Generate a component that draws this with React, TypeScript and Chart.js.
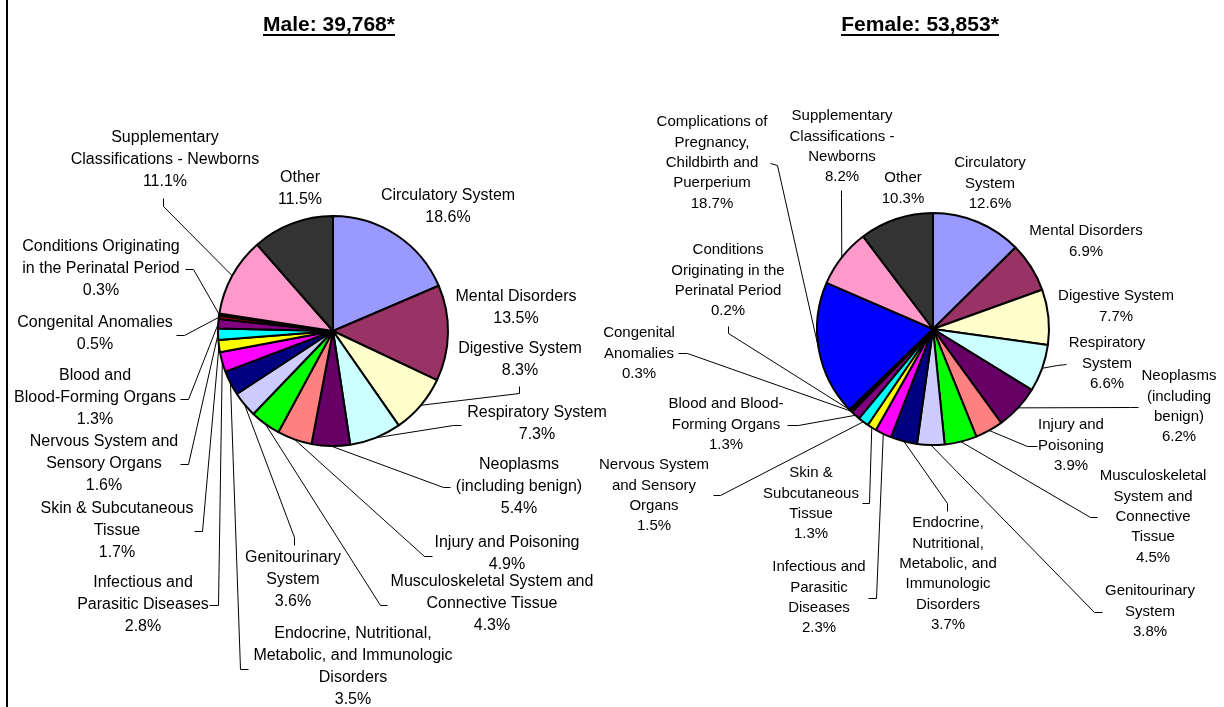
import React, { useEffect, useRef } from 'react';
import { Chart, registerables } from 'chart.js';

Chart.register(...registerables);

// ---------- data ----------
const categories = [
  'Circulatory System',
  'Mental Disorders',
  'Digestive System',
  'Respiratory System',
  'Neoplasms (including benign)',
  'Injury and Poisoning',
  'Musculoskeletal System and Connective Tissue',
  'Genitourinary System',
  'Endocrine, Nutritional, Metabolic, and Immunologic Disorders',
  'Infectious and Parasitic Diseases',
  'Skin & Subcutaneous Tissue',
  'Nervous System and Sensory Organs',
  'Blood and Blood-Forming Organs',
  'Congenital Anomalies',
  'Conditions Originating in the Perinatal Period',
  'Complications of Pregnancy, Childbirth and Puerperium',
  'Supplementary Classifications - Newborns',
  'Other',
];
const maleValues = [18.6, 13.5, 8.3, 7.3, 5.4, 4.9, 4.3, 3.6, 3.5, 2.8, 1.7, 1.6, 1.3, 0.5, 0.3, 0, 11.1, 11.5];
const femaleValues = [12.6, 6.9, 7.7, 6.6, 6.2, 3.9, 4.5, 3.8, 3.7, 2.3, 1.3, 1.5, 1.3, 0.3, 0.2, 18.7, 8.2, 10.3];
const maleTotal = 39768;
const femaleTotal = 53853;
const maleTitle = 'Male: ' + maleTotal.toLocaleString('en-US') + '*';
const femaleTitle = 'Female: ' + femaleTotal.toLocaleString('en-US') + '*';

// ---------- styles ----------
const sliceColors = [
  '#9999FF', '#993366', '#FFFFCC', '#CCFFFF', '#660066', '#FF8080', '#00FF00', '#CCCCFF', '#000080',
  '#FF00FF', '#FFFF00', '#00FFFF', '#800080', '#800000', '#FF0000', '#0000FF', '#FF99CC', '#333333',
];
const FONT = '"Liberation Sans", Arial, sans-serif';

type Lab = { lines: string[]; x: number; y: number; lead?: number[] } | null;

// ---------- label layout (positions of the text blocks and leader elbows) ----------
const maleLabels: Lab[] = [
  { lines: ['Circulatory System'], x: 448, y: 196 },
  { lines: ['Mental Disorders'], x: 516, y: 297 },
  { lines: ['Digestive System'], x: 520, y: 349, lead: [519, 386, 519, 393] },
  { lines: ['Respiratory System'], x: 537, y: 413, lead: [461, 425, 453, 425] },
  { lines: ['Neoplasms', '(including benign)'], x: 519, y: 465, lead: [450, 487, 443, 487] },
  { lines: ['Injury and Poisoning'], x: 507, y: 543, lead: [432, 556, 424, 556] },
  { lines: ['Musculoskeletal System and', 'Connective Tissue'], x: 492, y: 582, lead: [387, 605, 380, 605] },
  { lines: ['Genitourinary', 'System'], x: 293, y: 558, lead: [294, 545, 294, 537] },
  { lines: ['Endocrine, Nutritional,', 'Metabolic, and Immunologic', 'Disorders'], x: 353, y: 634, lead: [248, 669, 240, 669] },
  { lines: ['Infectious and', 'Parasitic Diseases'], x: 143, y: 583, lead: [209, 605, 218, 605] },
  { lines: ['Skin & Subcutaneous', 'Tissue'], x: 117, y: 509, lead: [194, 531, 202, 531] },
  { lines: ['Nervous System and', 'Sensory Organs'], x: 104, y: 442, lead: [180, 464, 188, 464] },
  { lines: ['Blood and', 'Blood-Forming Organs'], x: 95, y: 376, lead: [180, 399, 188, 399] },
  { lines: ['Congenital Anomalies'], x: 95, y: 323, lead: [176, 335, 184, 335] },
  { lines: ['Conditions Originating', 'in the Perinatal Period'], x: 101, y: 247, lead: [185, 269, 193, 269] },
  null,
  { lines: ['Supplementary', 'Classifications - Newborns'], x: 165, y: 138, lead: [163, 198, 163, 206] },
  { lines: ['Other'], x: 300, y: 178 },
];

const femaleLabels: Lab[] = [
  { lines: ['Circulatory', 'System'], x: 990, y: 163 },
  { lines: ['Mental Disorders'], x: 1086, y: 231 },
  { lines: ['Digestive System'], x: 1116, y: 296 },
  { lines: ['Respiratory', 'System'], x: 1107, y: 343, lead: [1066, 364, 1057, 365] },
  { lines: ['Neoplasms', '(including', 'benign)'], x: 1179, y: 376, lead: [1138, 407, 1130, 407] },
  { lines: ['Injury and', 'Poisoning'], x: 1071, y: 425, lead: [1037, 446, 1027, 446] },
  { lines: ['Musculoskeletal', 'System and', 'Connective', 'Tissue'], x: 1153, y: 476, lead: [1097, 517, 1090, 517] },
  { lines: ['Genitourinary', 'System'], x: 1150, y: 591, lead: [1102, 612, 1094, 612] },
  { lines: ['Endocrine,', 'Nutritional,', 'Metabolic, and', 'Immunologic', 'Disorders'], x: 948, y: 523, lead: [947, 511, 947, 503] },
  { lines: ['Infectious and', 'Parasitic', 'Diseases'], x: 819, y: 567, lead: [868, 598, 876, 598] },
  { lines: ['Skin &', 'Subcutaneous', 'Tissue'], x: 811, y: 473, lead: [862, 503, 869, 503] },
  { lines: ['Nervous System', 'and Sensory', 'Organs'], x: 654, y: 465, lead: [713, 495, 720, 495] },
  { lines: ['Blood and Blood-', 'Forming Organs'], x: 726, y: 404, lead: [787, 425, 798, 425] },
  { lines: ['Congenital', 'Anomalies'], x: 639, y: 333, lead: [678, 353, 687, 353] },
  { lines: ['Conditions', 'Originating in the', 'Perinatal Period'], x: 728, y: 250, lead: [728, 326, 728, 333] },
  { lines: ['Complications of', 'Pregnancy,', 'Childbirth and', 'Puerperium'], x: 712, y: 122, lead: [770, 163, 777, 165] },
  { lines: ['Supplementary', 'Classifications -', 'Newborns'], x: 842, y: 116, lead: [841, 190, 841, 197] },
  { lines: ['Other'], x: 903, y: 178 },
];

type PieCfg = {
  values: number[];
  labels: Lab[];
  title: string;
  titleX: number;
  titleY: number;
  fontSize: number;
  lineHeight: number;
  radius: number;
  padding: { left: number; right: number; top: number; bottom: number };
  border: boolean;
};

const W = 1224;
const H = 707;

function makePlugin(cfg: PieCfg) {
  return {
    id: 'pieLabels',
    afterDatasetsDraw(chart: any) {
      const ctx: CanvasRenderingContext2D = chart.ctx;
      const meta = chart.getDatasetMeta(0);
      ctx.save();
      ctx.fillStyle = '#000';
      // title
      ctx.font = `bold 21px ${FONT}`;
      ctx.textAlign = 'center';
      ctx.textBaseline = 'alphabetic';
      ctx.fillText(cfg.title, cfg.titleX, cfg.titleY);
      const tw = ctx.measureText(cfg.title).width;
      ctx.fillRect(Math.round(cfg.titleX - tw / 2), cfg.titleY + 3, Math.round(tw), 2);
      if (cfg.border) ctx.fillRect(6, 0, 2, H);
      // labels
      ctx.font = `${cfg.fontSize}px ${FONT}`;
      ctx.textBaseline = 'middle';
      ctx.strokeStyle = '#000';
      ctx.lineWidth = 1;
      cfg.labels.forEach((lab, i) => {
        const v = cfg.values[i];
        if (!lab || !v) return;
        const lines = [...lab.lines, v.toFixed(1) + '%'];
        lines.forEach((t, k) => ctx.fillText(t, lab.x, lab.y + k * cfg.lineHeight));
        if (lab.lead) {
          const arc = meta.data[i];
          const p = arc.getProps(['x', 'y', 'startAngle', 'endAngle', 'outerRadius'], true);
          const mid = (p.startAngle + p.endAngle) / 2;
          const tx = p.x + Math.cos(mid) * p.outerRadius;
          const ty = p.y + Math.sin(mid) * p.outerRadius;
          ctx.beginPath();
          ctx.moveTo(lab.lead[0] + 0.5, lab.lead[1] + 0.5);
          ctx.lineTo(lab.lead[2] + 0.5, lab.lead[3] + 0.5);
          ctx.lineTo(tx, ty);
          ctx.stroke();
        }
      });
      ctx.restore();
    },
  };
}

function PieCanvas({ cfg }: { cfg: PieCfg }) {
  const ref = useRef<HTMLCanvasElement | null>(null);
  useEffect(() => {
    if (!ref.current) return;
    const chart = new Chart(ref.current, {
      type: 'pie',
      data: {
        labels: categories,
        datasets: [
          {
            data: cfg.values,
            backgroundColor: sliceColors,
            borderColor: '#000000',
            borderWidth: 2,
          },
        ],
      },
      options: {
        responsive: false,
        animation: false,
        devicePixelRatio: 1,
        radius: cfg.radius,
        layout: { padding: cfg.padding },
        plugins: {
          legend: { display: false },
          tooltip: { enabled: false },
          title: { display: false },
        },
        events: [],
      } as any,
      plugins: [makePlugin(cfg)],
    });
    return () => chart.destroy();
  }, [cfg]);
  return (
    <canvas
      ref={ref}
      width={W}
      height={H}
      style={{ position: 'absolute', left: 0, top: 0, width: W, height: H }}
    />
  );
}

const maleCfg: PieCfg = {
  values: maleValues,
  labels: maleLabels,
  title: maleTitle,
  titleX: 329,
  titleY: 31,
  fontSize: 16,
  lineHeight: 22,
  radius: 115,
  padding: { left: 217, right: W - 449, top: 215, bottom: H - 447 },
  border: true,
};

const femaleCfg: PieCfg = {
  values: femaleValues,
  labels: femaleLabels,
  title: femaleTitle,
  titleX: 920,
  titleY: 31,
  fontSize: 15,
  lineHeight: 20.4,
  radius: 116,
  padding: { left: 817, right: W - 1049, top: 213, bottom: H - 445 },
  border: false,
};

export default function App() {
  return (
    <div style={{ position: 'absolute', left: 0, top: 0, width: W, height: H, background: '#fff', overflow: 'hidden' }}>
      <PieCanvas cfg={maleCfg} />
      <PieCanvas cfg={femaleCfg} />
    </div>
  );
}
